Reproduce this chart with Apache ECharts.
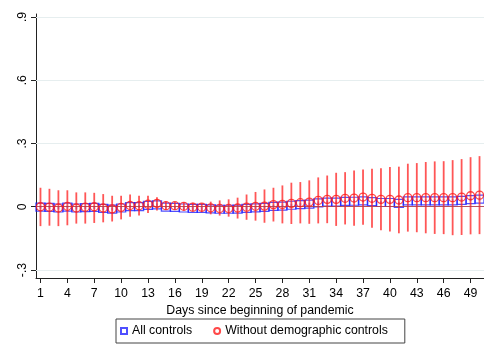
<!DOCTYPE html>
<html>
<head>
<meta charset="utf-8">
<script src="https://cdn.jsdelivr.net/npm/echarts@6/dist/echarts.min.js"></script>
<style>
  html, body { margin: 0; padding: 0; background: #fff; }
  #chart { width: 484px; height: 344px; }
</style>
</head>
<body>
<div id="chart"></div>
<script>
// Day index on the horizontal axis
const days = [1,2,3,4,5,6,7,8,9,10,11,12,13,14,15,16,17,18,19,20,21,22,23,24,25,
              26,27,28,29,30,31,32,33,34,35,36,37,38,39,40,41,42,43,44,45,46,47,48,49,50];

// Estimates with the full control set
const allMean = [-0.002,-0.003,-0.006,-0.002,-0.006,-0.004,-0.003,-0.008,-0.011,-0.006,
                 0.001,0.000,0.006,0.009,-0.002,-0.003,-0.006,-0.008,-0.008,-0.010,
                 -0.012,-0.012,-0.011,-0.008,-0.005,-0.003,0.002,0.003,0.007,0.010,
                 0.012,0.018,0.022,0.022,0.025,0.026,0.028,0.024,0.020,0.020,
                 0.016,0.028,0.028,0.028,0.028,0.028,0.028,0.030,0.034,0.036];
const allLo = [-0.009,-0.010,-0.013,-0.009,-0.013,-0.011,-0.010,-0.015,-0.018,-0.013,
               -0.006,-0.007,-0.001,0.002,-0.009,-0.010,-0.013,-0.015,-0.015,-0.017,
               -0.019,-0.019,-0.018,-0.015,-0.012,-0.010,-0.005,-0.004,0.000,0.003,
               0.005,0.011,0.015,0.015,0.018,0.019,0.021,0.017,0.013,0.013,
               0.009,0.021,0.021,0.021,0.021,0.021,0.021,0.023,0.027,0.029];
const allHi = [0.005,0.004,0.001,0.005,0.001,0.003,0.004,-0.001,-0.004,0.001,
               0.008,0.007,0.013,0.016,0.005,0.004,0.001,-0.001,-0.001,-0.003,
               -0.005,-0.005,-0.004,-0.001,0.002,0.004,0.009,0.010,0.014,0.017,
               0.019,0.025,0.029,0.029,0.032,0.033,0.035,0.031,0.027,0.027,
               0.023,0.035,0.035,0.035,0.035,0.035,0.035,0.037,0.041,0.043];

// Estimates without the demographic controls
const noDemoMean = [0.000,-0.002,-0.006,0.002,-0.006,-0.002,0.000,-0.006,-0.010,-0.003,
                    0.006,0.005,0.012,0.016,0.005,0.005,0.002,-0.002,-0.002,-0.005,
                    -0.008,-0.008,-0.006,-0.002,0.002,0.003,0.010,0.011,0.016,0.019,
                    0.022,0.030,0.035,0.035,0.040,0.041,0.046,0.040,0.035,0.035,
                    0.032,0.043,0.043,0.043,0.043,0.043,0.043,0.046,0.052,0.055];
const noDemoLo = [-0.092,-0.090,-0.092,-0.088,-0.080,-0.080,-0.077,-0.074,-0.070,-0.060,
                  -0.048,-0.042,-0.030,-0.018,-0.014,-0.014,-0.018,-0.023,-0.026,-0.036,
                  -0.042,-0.047,-0.056,-0.062,-0.066,-0.076,-0.070,-0.079,-0.082,-0.079,
                  -0.081,-0.079,-0.078,-0.091,-0.084,-0.090,-0.085,-0.100,-0.112,-0.118,
                  -0.126,-0.118,-0.121,-0.126,-0.129,-0.130,-0.135,-0.134,-0.131,-0.130];
const noDemoHi = [0.090,0.085,0.078,0.078,0.068,0.068,0.066,0.060,0.052,0.052,
                  0.058,0.052,0.052,0.045,0.025,0.022,0.020,0.019,0.016,0.024,
                  0.030,0.035,0.043,0.058,0.070,0.082,0.090,0.101,0.114,0.117,
                  0.125,0.139,0.148,0.161,0.164,0.172,0.177,0.180,0.182,0.188,
                  0.190,0.204,0.207,0.212,0.215,0.216,0.221,0.226,0.235,0.240];

// Axis ticks and their printed labels
const xTicks = [1,4,7,10,13,16,19,22,25,28,31,34,37,40,43,46,49];
const yTicks = [-0.3,0,0.3,0.6,0.9];
const yTickLabels = ['-.3','0','.3','.6','.9'];
const gridLevels = [-0.3,0.3,0.6,0.9];

const seriesNames = ['All controls','Without demographic controls'];
const xTitle = 'Days since beginning of pandemic';

const FONT = '"Liberation Sans", Arial, sans-serif';
const FS = 12.3;
const BLUE = '#2323ff';
const RED = '#ff1a1a';

function pairs(xs, ys) { return xs.map((x, i) => [x, ys[i]]); }
function triples(xs, lo, hi) { return xs.map((x, i) => [x, lo[i], hi[i]]); }

// Vertical confidence-interval spike drawn in data coordinates
function spike(color, width) {
  return function (params, api) {
    const x = api.value(0);
    const p1 = api.coord([x, api.value(1)]);
    const p2 = api.coord([x, api.value(2)]);
    return {
      type: 'line',
      shape: { x1: p1[0], y1: p1[1], x2: p2[0], y2: p2[1] },
      style: { stroke: color, lineWidth: width }
    };
  };
}

const chart = echarts.init(document.getElementById('chart'), null, { renderer: 'canvas' });

chart.setOption({
  animation: false,
  backgroundColor: '#fff',
  textStyle: { fontFamily: FONT },
  grid: { left: 36, top: 14, width: 451, bottom: 66, containLabel: false },
  xAxis: {
    type: 'value',
    min: 0.5,
    max: 50.5,
    name: xTitle,
    nameLocation: 'middle',
    nameGap: 18,
    nameTextStyle: { fontFamily: FONT, fontSize: FS, color: '#000' },
    axisLine: { show: true, onZero: false, lineStyle: { color: '#222', width: 1 } },
    axisTick: { show: true, length: 5, customValues: xTicks, lineStyle: { color: '#222' } },
    axisLabel: { customValues: xTicks, margin: 10, fontFamily: FONT, fontSize: FS, color: '#000' },
    splitLine: { show: false }
  },
  yAxis: {
    type: 'value',
    min: -0.338,
    max: 0.914,
    axisLine: { show: true, lineStyle: { color: '#222', width: 1 } },
    axisTick: { show: true, length: 5, customValues: yTicks, lineStyle: { color: '#222' } },
    axisLabel: {
      customValues: yTicks,
      rotate: 90,
      margin: 7,
      fontFamily: FONT,
      fontSize: FS,
      color: '#000',
      formatter: function (v) {
        const i = yTicks.findIndex(t => Math.abs(t - v) < 1e-9);
        return i >= 0 ? yTickLabels[i] : '';
      }
    },
    splitLine: { show: false }
  },
  legend: {
    left: 116,
    top: 319,
    orient: 'horizontal',
    data: [
      { name: seriesNames[0], icon: 'rect' },
      { name: seriesNames[1], icon: 'circle' }
    ],
    itemWidth: 6,
    itemHeight: 6,
    itemGap: 21,
    itemTextGap: 7,
    padding: [6, 17, 6, 4],
    borderColor: '#444',
    borderWidth: 1,
    borderRadius: 0,
    textStyle: { fontFamily: FONT, fontSize: FS, color: '#000' }
  },
  series: [
    {
      // reference levels: light grid at the labelled ticks, darker line at zero
      type: 'line',
      data: [],
      silent: true,
      z: 1,
      markLine: {
        silent: true,
        symbol: 'none',
        label: { show: false },
        animation: false,
        data: gridLevels.map(v => ({ yAxis: v, lineStyle: { color: '#e6eeef', width: 1, type: 'solid' } }))
          .concat([{ yAxis: 0, lineStyle: { color: '#b0404c', width: 1, type: 'solid', opacity: 0.9 } }])
      }
    },
    {
      name: seriesNames[0] + ' CI',
      type: 'custom',
      renderItem: spike('rgba(60,60,255,0.45)', 2),
      encode: { x: 0, y: [1, 2] },
      data: triples(days, allLo, allHi),
      silent: true,
      z: 2
    },
    {
      name: seriesNames[0],
      type: 'scatter',
      symbol: 'rect',
      symbolSize: [9, 8],
      data: pairs(days, allMean),
      itemStyle: { color: 'rgba(0,0,0,0)', borderColor: BLUE, borderWidth: 1.3 },
      z: 3
    },
    {
      name: seriesNames[1] + ' CI',
      type: 'custom',
      renderItem: spike('rgba(255,30,30,0.75)', 1.8),
      encode: { x: 0, y: [1, 2] },
      data: triples(days, noDemoLo, noDemoHi),
      silent: true,
      z: 4
    },
    {
      name: seriesNames[1],
      type: 'scatter',
      symbol: 'circle',
      symbolSize: 8,
      data: pairs(days, noDemoMean),
      itemStyle: { color: 'rgba(0,0,0,0)', borderColor: RED, borderWidth: 1.3 },
      z: 5
    }
  ]
});
</script>
</body>
</html>
